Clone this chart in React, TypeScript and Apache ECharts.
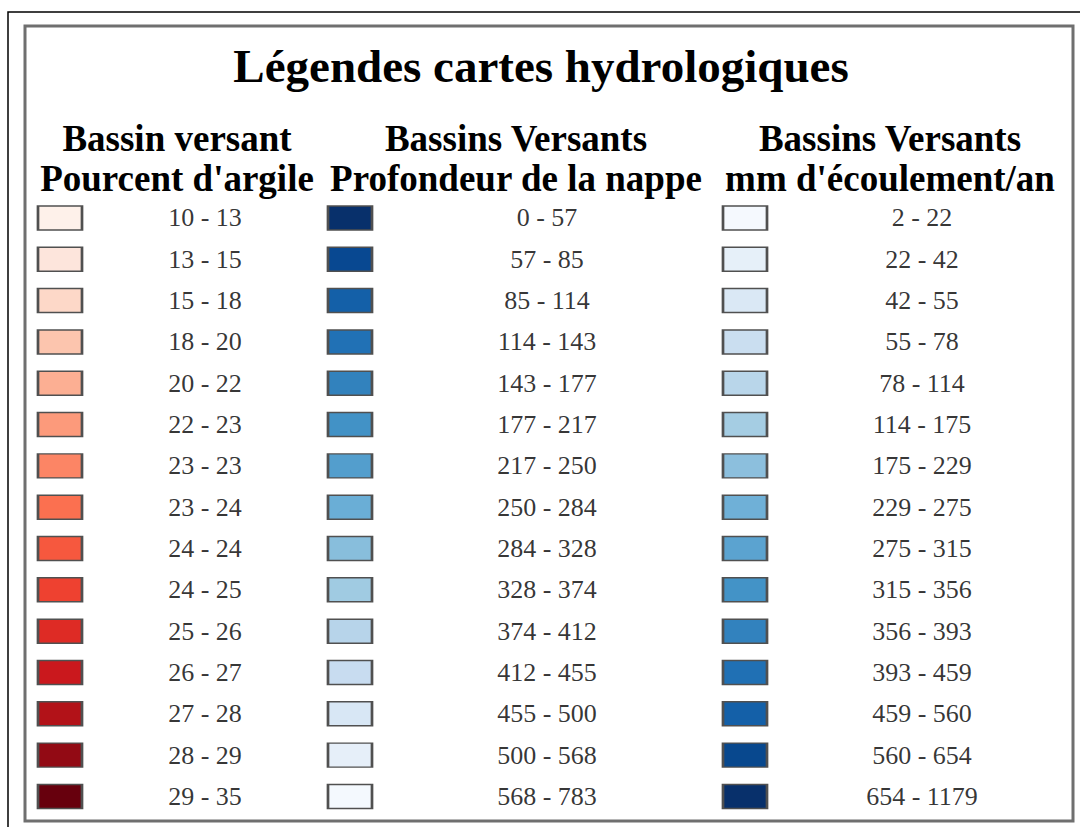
import React, { useEffect, useRef } from "react";
import * as echarts from "echarts";

const TITLE = "Légendes cartes hydrologiques";
const HEADERS_LINE1 = ["Bassin versant", "Bassins Versants", "Bassins Versants"];
const HEADERS_LINE2 = ["Pourcent d'argile", "Profondeur de la nappe", "mm d'écoulement/an"];

const COLUMNS = ["argile", "nappe", "ecoulement"];
const ROWS = ["1", "2", "3", "4", "5", "6", "7", "8", "9", "10", "11", "12", "13", "14", "15"];

const CLAY_RANGES = [
  "10 - 13", "13 - 15", "15 - 18", "18 - 20", "20 - 22", "22 - 23", "23 - 23", "23 - 24",
  "24 - 24", "24 - 25", "25 - 26", "26 - 27", "27 - 28", "28 - 29", "29 - 35",
];
const CLAY_COLORS = [
  "#fef1ea", "#fde5dc", "#fdd8c8", "#fcc5ae", "#fcaf93", "#fc9a7b", "#fc8565", "#fb7050",
  "#f6583e", "#ee4130", "#de2b25", "#ca181d", "#b21218", "#920a14", "#67000d",
];

const DEPTH_RANGES = [
  "0 - 57", "57 - 85", "85 - 114", "114 - 143", "143 - 177", "177 - 217", "217 - 250", "250 - 284",
  "284 - 328", "328 - 374", "374 - 412", "412 - 455", "455 - 500", "500 - 568", "568 - 783",
];
const DEPTH_COLORS = [
  "#08306b", "#084891", "#1460a8", "#2171b5", "#3282bd", "#4292c6", "#539ecd", "#6aaed6",
  "#88bedc", "#a0cbe2", "#b7d4ea", "#c8dcf0", "#d8e7f5", "#e6eff9", "#f4f9fe",
];

const RUNOFF_RANGES = [
  "2 - 22", "22 - 42", "42 - 55", "55 - 78", "78 - 114", "114 - 175", "175 - 229", "229 - 275",
  "275 - 315", "315 - 356", "356 - 393", "393 - 459", "459 - 560", "560 - 654", "654 - 1179",
];
const RUNOFF_COLORS = [
  "#f5f9fe", "#e6f0f9", "#dae8f5", "#cadef0", "#b9d6ea", "#a5cde3", "#8cbfdd", "#6fb0d7",
  "#5ba3d0", "#4393c7", "#3282be", "#2070b4", "#1460a8", "#08488e", "#08306b",
];

const FONT = '"Liberation Serif", "Times New Roman", serif';

export default function App() {
  const ref = useRef<HTMLDivElement>(null);

  useEffect(() => {
    if (!ref.current) return;
    const chart = echarts.init(ref.current, undefined, { renderer: "svg" });

    const groups = [
      { ranges: CLAY_RANGES, colors: CLAY_COLORS, swatchDx: -139, textDx: 6 },
      { ranges: DEPTH_RANGES, colors: DEPTH_COLORS, swatchDx: -199, textDx: -2 },
      { ranges: RUNOFF_RANGES, colors: RUNOFF_COLORS, swatchDx: -154, textDx: 23 },
    ];

    const series: any[] = [];
    groups.forEach((g, c) => {
      series.push({
        type: "scatter",
        symbol: "rect",
        symbolSize: [44, 24],
        symbolOffset: [g.swatchDx, 0],
        itemStyle: { borderColor: "#505050", borderWidth: 2, opacity: 1 },
        data: g.ranges.map((r, i) => ({
          value: [COLUMNS[c], ROWS[i]],
          name: r,
          itemStyle: { color: g.colors[i] },
        })),
        z: 2,
      });
      series.push({
        type: "scatter",
        symbol: "rect",
        symbolSize: [1, 1],
        itemStyle: { color: "rgba(0,0,0,0)" },
        label: {
          show: true,
          position: "inside",
          offset: [g.textDx, 0],
          formatter: "{b}",
          color: "#000",
          fontSize: 26,
          fontFamily: FONT,
        },
        data: g.ranges.map((r, i) => ({ value: [COLUMNS[c], ROWS[i]], name: r })),
        z: 3,
      });
    });

    const headerX = [177, 516, 890];
    const headerStyle = (text: string) => ({
      text,
      align: "center",
      verticalAlign: "middle",
      fontSize: 37,
      fontWeight: "bold",
      fontFamily: FONT,
      fill: "#000",
    });
    const graphics: any[] = [
      {
        type: "rect",
        shape: { x: 8, y: 12, width: 1200, height: 1000 },
        style: { fill: "#fff", stroke: "#000", lineWidth: 1.5 },
        z: -10,
      },
      {
        type: "rect",
        shape: { x: 25, y: 26, width: 1048, height: 795 },
        style: { fill: "#fff", stroke: "#6f6f6f", lineWidth: 3 },
        z: -9,
      },
      {
        type: "text",
        x: 541,
        y: 66,
        style: {
          text: TITLE,
          align: "center",
          verticalAlign: "middle",
          fontSize: 47,
          fontWeight: "bold",
          fontFamily: FONT,
          fill: "#000",
        },
      },
    ];
    HEADERS_LINE1.forEach((t, i) => {
      graphics.push({ type: "text", x: headerX[i], y: 138, style: headerStyle(t) });
      graphics.push({ type: "text", x: headerX[i], y: 178, style: headerStyle(HEADERS_LINE2[i]) });
    });

    chart.setOption({
      animation: false,
      backgroundColor: "#ffffff",
      graphic: graphics,
      grid: { left: 24, width: 1050, top: 197.3, height: 619.8 },
      xAxis: { type: "category", data: COLUMNS, show: false },
      yAxis: { type: "category", data: ROWS, inverse: true, show: false },
      series,
    });

    return () => chart.dispose();
  }, []);

  return (
    <div
      ref={ref}
      style={{ position: "fixed", left: 0, top: 0, width: 1080, height: 827 }}
    />
  );
}
